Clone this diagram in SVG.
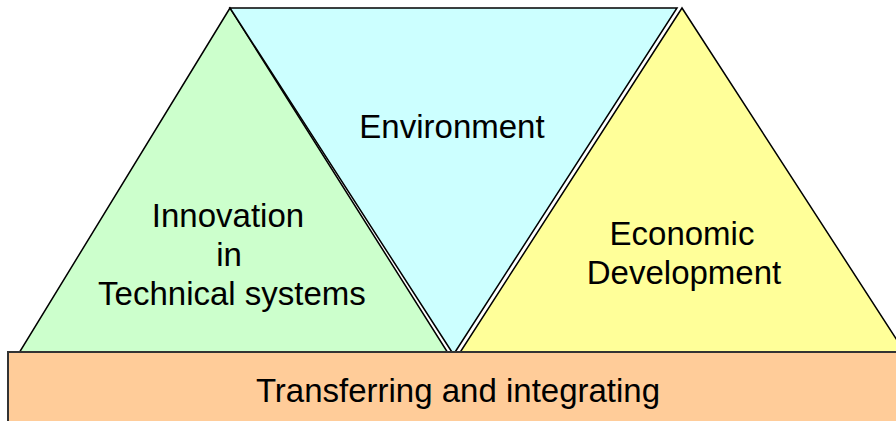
<svg xmlns="http://www.w3.org/2000/svg" width="896" height="421" viewBox="0 0 896 421">
<style>
.shape{stroke:#000;stroke-width:1.5;stroke-linejoin:miter}
.lbl{font-family:"Liberation Sans",Arial,sans-serif;font-size:33px;fill:#000;text-anchor:middle}
</style>
<rect x="0" y="0" width="896" height="421" fill="#fff"/>
<g id="innovation">
<polygon class="shape" points="230,8 19,353 448,353" fill="#CCFFCC"/>
<text class="lbl" x="228" y="227">Innovation</text>
<text class="lbl" x="229" y="266">in</text>
<text class="lbl" x="232" y="305">Technical systems</text>
</g>
<g id="environment">
<polygon class="shape" points="230,8 677,8 453.5,354.5" fill="#CCFFFF"/>
<text class="lbl" x="452" y="138">Environment</text>
</g>
<g id="economic">
<polygon class="shape" points="682,8 459,354 906,354" fill="#FFFF99"/>
<text class="lbl" x="682" y="245">Economic</text>
<text class="lbl" x="684" y="284">Development</text>
</g>
<g id="transferring">
<rect x="8" y="352" width="900" height="80" fill="#FFCC99" stroke="#333" stroke-width="2"/>
<text class="lbl" x="458" y="402">Transferring and integrating</text>
</g>
</svg>
